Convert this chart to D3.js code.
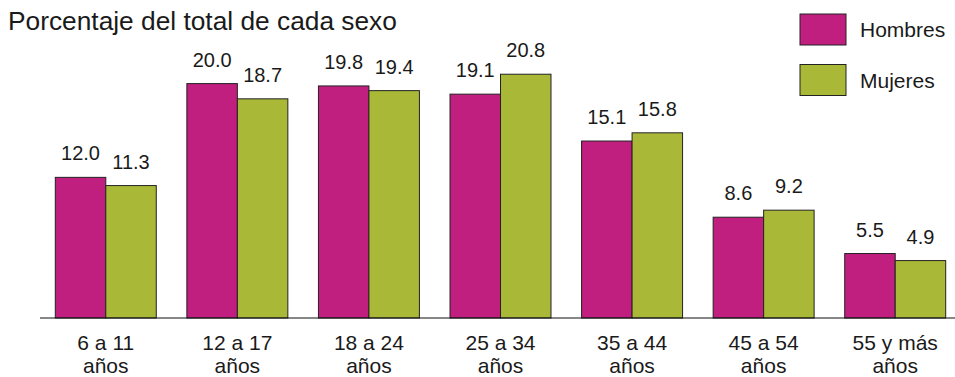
<!DOCTYPE html>
<html><head><meta charset="utf-8">
<script src="https://cdn.jsdelivr.net/npm/d3@7/dist/d3.min.js"></script>
<style>body{margin:0;background:#fff}svg{display:block}text{font-family:"Liberation Sans",Arial,sans-serif;fill:#1a1a1a}</style>
</head><body>
<script>
const categories = [["6 a 11","años"],["12 a 17","años"],["18 a 24","años"],["25 a 34","años"],["35 a 44","años"],["45 a 54","años"],["55 y más","años"]];
const series = ["Hombres","Mujeres"];
const hombres = [12.0,20.0,19.8,19.1,15.1,8.6,5.5];
const mujeres = [11.3,18.7,19.4,20.8,15.8,9.2,4.9];
const colors = ["#C01F80","#A9B937"];
const title = "Porcentaje del total de cada sexo";

const W=955,H=377;
const svg=d3.select("body").append("svg").attr("width",W).attr("height",H);
const idx=d3.range(categories.length);
const x0=d3.scaleBand().domain(idx).range([40,961]).padding(0);
const x1=d3.scaleBand().domain(series).range([0,x0.step()]).paddingInner(0).paddingOuter(0.303);
const y=d3.scaleLinear().domain([0,25]).range([318,25]);
const vals=[hombres,mujeres];

svg.append("text").attr("x",8).attr("y",30).attr("font-size",26.3).text(title);

const g=svg.append("g");
idx.forEach(i=>{
  series.forEach((s,j)=>{
    const v=vals[j][i];
    const bx=x0(i)+x1(s);
    g.append("rect").attr("x",bx).attr("y",y(v)).attr("width",x1.bandwidth()).attr("height",y(0)-y(v))
     .attr("fill",colors[j]).attr("stroke","#222").attr("stroke-width",1);
    g.append("text").attr("x",bx+x1.bandwidth()/2).attr("y",y(v)-17).attr("text-anchor","middle")
     .attr("font-size",20).text(v.toFixed(1));
  });
});

svg.append("line").attr("x1",40).attr("x2",955).attr("y1",y(0)).attr("y2",y(0)).attr("stroke","#111").attr("stroke-width",1.2);

const xl=svg.append("g");
idx.forEach(i=>{
  const cx=x0(i)+x0.bandwidth()/2;
  const t=xl.append("text").attr("text-anchor","middle").attr("font-size",21);
  t.append("tspan").attr("x",cx).attr("y",350).text(categories[i][0]);
  t.append("tspan").attr("x",cx).attr("y",373).text(categories[i][1]);
});

const lg=svg.append("g");
series.forEach((s,j)=>{
  const ty=14+j*50.5;
  lg.append("rect").attr("x",800).attr("y",ty).attr("width",46).attr("height",31).attr("fill",colors[j]).attr("stroke","#222").attr("stroke-width",1);
  lg.append("text").attr("x",860).attr("y",ty+23).attr("font-size",21).text(s);
});
</script>
</body></html>
